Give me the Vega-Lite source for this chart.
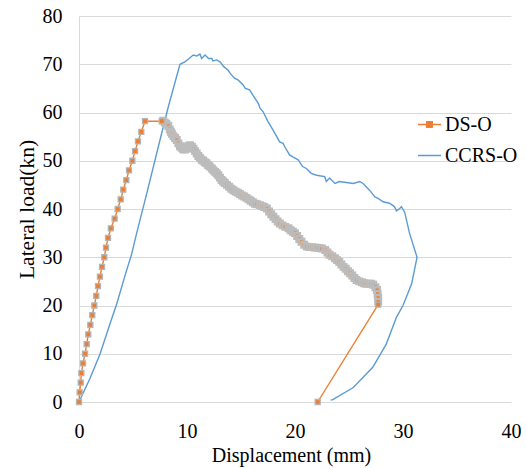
{
  "$schema": "https://vega.github.io/schema/vega-lite/v6.json",
  "autosize": "none",
  "width": 432,
  "height": 386,
  "padding": {"left": 79, "top": 16, "right": 15, "bottom": 66},
  "background": "white",
  "config": {
    "font": "Liberation Serif",
    "view": {"stroke": null},
    "axis": {"labelFont": "Liberation Serif", "titleFont": "Liberation Serif", "labelColor": "#000", "titleColor": "#000", "titleFontWeight": "normal"},
    "legend": {"labelFont": "Liberation Serif", "labelColor": "#000"}
  },
  "data": {
    "values": [
      {"series":"DS-O","i":0,"disp":0,"load":0},
      {"series":"DS-O","i":1,"disp":0.06,"load":2},
      {"series":"DS-O","i":2,"disp":0.16,"load":4},
      {"series":"DS-O","i":3,"disp":0.22,"load":6},
      {"series":"DS-O","i":4,"disp":0.37,"load":8},
      {"series":"DS-O","i":5,"disp":0.56,"load":10},
      {"series":"DS-O","i":6,"disp":0.71,"load":12},
      {"series":"DS-O","i":7,"disp":0.86,"load":14},
      {"series":"DS-O","i":8,"disp":1.05,"load":16},
      {"series":"DS-O","i":9,"disp":1.23,"load":18},
      {"series":"DS-O","i":10,"disp":1.42,"load":20},
      {"series":"DS-O","i":11,"disp":1.6,"load":22},
      {"series":"DS-O","i":12,"disp":1.76,"load":24},
      {"series":"DS-O","i":13,"disp":1.94,"load":26},
      {"series":"DS-O","i":14,"disp":2.13,"load":28},
      {"series":"DS-O","i":15,"disp":2.34,"load":30},
      {"series":"DS-O","i":16,"disp":2.5,"load":32},
      {"series":"DS-O","i":17,"disp":2.69,"load":34},
      {"series":"DS-O","i":18,"disp":2.95,"load":36},
      {"series":"DS-O","i":19,"disp":3.3,"load":38},
      {"series":"DS-O","i":20,"disp":3.58,"load":40},
      {"series":"DS-O","i":21,"disp":3.86,"load":42},
      {"series":"DS-O","i":22,"disp":4.1,"load":44},
      {"series":"DS-O","i":23,"disp":4.38,"load":46},
      {"series":"DS-O","i":24,"disp":4.63,"load":48},
      {"series":"DS-O","i":25,"disp":4.94,"load":50},
      {"series":"DS-O","i":26,"disp":5.19,"load":52},
      {"series":"DS-O","i":27,"disp":5.46,"load":54},
      {"series":"DS-O","i":28,"disp":5.77,"load":56},
      {"series":"DS-O","i":29,"disp":6.11,"load":58.2},
      {"series":"DS-O","i":30,"disp":7.66,"load":58.2},
      {"series":"DS-O","i":31,"disp":7.8,"load":58.3},
      {"series":"DS-O","i":32,"disp":7.95,"load":57.9},
      {"series":"DS-O","i":33,"disp":8.1,"load":57.6},
      {"series":"DS-O","i":34,"disp":8.27,"load":57.2},
      {"series":"DS-O","i":35,"disp":8.4,"load":56.5},
      {"series":"DS-O","i":36,"disp":8.5,"load":56.0},
      {"series":"DS-O","i":37,"disp":8.6,"load":55.6},
      {"series":"DS-O","i":38,"disp":8.75,"load":55.1},
      {"series":"DS-O","i":39,"disp":8.9,"load":54.7},
      {"series":"DS-O","i":40,"disp":9.05,"load":54.3},
      {"series":"DS-O","i":41,"disp":9.2,"load":53.6},
      {"series":"DS-O","i":42,"disp":9.35,"load":53.0},
      {"series":"DS-O","i":43,"disp":9.5,"load":52.7},
      {"series":"DS-O","i":44,"disp":9.65,"load":52.4},
      {"series":"DS-O","i":45,"disp":9.8,"load":52.3},
      {"series":"DS-O","i":46,"disp":9.95,"load":52.6},
      {"series":"DS-O","i":47,"disp":10.1,"load":53.0},
      {"series":"DS-O","i":48,"disp":10.28,"load":53.2},
      {"series":"DS-O","i":49,"disp":10.45,"load":52.9},
      {"series":"DS-O","i":50,"disp":10.6,"load":52.5},
      {"series":"DS-O","i":51,"disp":10.75,"load":52.0},
      {"series":"DS-O","i":52,"disp":10.9,"load":51.5},
      {"series":"DS-O","i":53,"disp":11.05,"load":51.0},
      {"series":"DS-O","i":54,"disp":11.2,"load":50.6},
      {"series":"DS-O","i":55,"disp":11.36,"load":50.2},
      {"series":"DS-O","i":56,"disp":11.5,"load":50.0},
      {"series":"DS-O","i":57,"disp":11.65,"load":49.7},
      {"series":"DS-O","i":58,"disp":11.8,"load":49.5},
      {"series":"DS-O","i":59,"disp":11.95,"load":49.1},
      {"series":"DS-O","i":60,"disp":12.1,"load":48.8},
      {"series":"DS-O","i":61,"disp":12.3,"load":48.4},
      {"series":"DS-O","i":62,"disp":12.45,"load":48.0},
      {"series":"DS-O","i":63,"disp":12.6,"load":47.7},
      {"series":"DS-O","i":64,"disp":12.75,"load":47.4},
      {"series":"DS-O","i":65,"disp":12.9,"load":47.0},
      {"series":"DS-O","i":66,"disp":13.05,"load":46.5},
      {"series":"DS-O","i":67,"disp":13.2,"load":46.0},
      {"series":"DS-O","i":68,"disp":13.35,"load":45.7},
      {"series":"DS-O","i":69,"disp":13.5,"load":45.4},
      {"series":"DS-O","i":70,"disp":13.7,"load":45.0},
      {"series":"DS-O","i":71,"disp":13.9,"load":44.6},
      {"series":"DS-O","i":72,"disp":14.1,"load":44.2},
      {"series":"DS-O","i":73,"disp":14.3,"load":43.9},
      {"series":"DS-O","i":74,"disp":14.5,"load":43.6},
      {"series":"DS-O","i":75,"disp":14.7,"load":43.4},
      {"series":"DS-O","i":76,"disp":14.9,"load":43.1},
      {"series":"DS-O","i":77,"disp":15.1,"load":42.8},
      {"series":"DS-O","i":78,"disp":15.3,"load":42.6},
      {"series":"DS-O","i":79,"disp":15.5,"load":42.3},
      {"series":"DS-O","i":80,"disp":15.7,"load":42.0},
      {"series":"DS-O","i":81,"disp":15.9,"load":41.7},
      {"series":"DS-O","i":82,"disp":16.1,"load":41.4},
      {"series":"DS-O","i":83,"disp":16.3,"load":41.1},
      {"series":"DS-O","i":84,"disp":16.5,"load":41.0},
      {"series":"DS-O","i":85,"disp":16.76,"load":40.8},
      {"series":"DS-O","i":86,"disp":16.95,"load":40.6},
      {"series":"DS-O","i":87,"disp":17.15,"load":40.4},
      {"series":"DS-O","i":88,"disp":17.4,"load":40.1},
      {"series":"DS-O","i":89,"disp":17.6,"load":39.5},
      {"series":"DS-O","i":90,"disp":17.8,"load":38.9},
      {"series":"DS-O","i":91,"disp":18.0,"load":38.4},
      {"series":"DS-O","i":92,"disp":18.2,"load":37.9},
      {"series":"DS-O","i":93,"disp":18.4,"load":37.4},
      {"series":"DS-O","i":94,"disp":18.6,"load":37.0},
      {"series":"DS-O","i":95,"disp":18.85,"load":36.6},
      {"series":"DS-O","i":96,"disp":19.1,"load":36.3},
      {"series":"DS-O","i":97,"disp":19.4,"load":36.0},
      {"series":"DS-O","i":98,"disp":19.6,"load":35.6},
      {"series":"DS-O","i":99,"disp":19.8,"load":35.3},
      {"series":"DS-O","i":100,"disp":20.0,"load":35.0},
      {"series":"DS-O","i":101,"disp":20.2,"load":34.4},
      {"series":"DS-O","i":102,"disp":20.4,"load":33.8},
      {"series":"DS-O","i":103,"disp":20.6,"load":33.2},
      {"series":"DS-O","i":104,"disp":20.85,"load":32.6},
      {"series":"DS-O","i":105,"disp":21.1,"load":32.2},
      {"series":"DS-O","i":106,"disp":21.35,"load":32.1},
      {"series":"DS-O","i":107,"disp":21.6,"load":32.1},
      {"series":"DS-O","i":108,"disp":21.8,"load":32.0},
      {"series":"DS-O","i":109,"disp":22.0,"load":32.0},
      {"series":"DS-O","i":110,"disp":22.25,"load":31.9},
      {"series":"DS-O","i":111,"disp":22.5,"load":31.8},
      {"series":"DS-O","i":112,"disp":22.8,"load":31.5},
      {"series":"DS-O","i":113,"disp":23.0,"load":31.0},
      {"series":"DS-O","i":114,"disp":23.2,"load":30.5},
      {"series":"DS-O","i":115,"disp":23.45,"load":30.2},
      {"series":"DS-O","i":116,"disp":23.7,"load":29.8},
      {"series":"DS-O","i":117,"disp":23.9,"load":29.4},
      {"series":"DS-O","i":118,"disp":24.1,"load":29.0},
      {"series":"DS-O","i":119,"disp":24.3,"load":28.5},
      {"series":"DS-O","i":120,"disp":24.5,"load":28.0},
      {"series":"DS-O","i":121,"disp":24.7,"load":27.6},
      {"series":"DS-O","i":122,"disp":24.9,"load":27.1},
      {"series":"DS-O","i":123,"disp":25.1,"load":26.7},
      {"series":"DS-O","i":124,"disp":25.3,"load":26.2},
      {"series":"DS-O","i":125,"disp":25.5,"load":25.7},
      {"series":"DS-O","i":126,"disp":25.7,"load":25.3},
      {"series":"DS-O","i":127,"disp":25.95,"load":25.0},
      {"series":"DS-O","i":128,"disp":26.2,"load":24.8},
      {"series":"DS-O","i":129,"disp":26.4,"load":24.6},
      {"series":"DS-O","i":130,"disp":26.6,"load":24.5},
      {"series":"DS-O","i":131,"disp":26.85,"load":24.5},
      {"series":"DS-O","i":132,"disp":27.05,"load":24.5},
      {"series":"DS-O","i":133,"disp":27.25,"load":24.3},
      {"series":"DS-O","i":134,"disp":27.45,"load":23.8},
      {"series":"DS-O","i":135,"disp":27.6,"load":23.2},
      {"series":"DS-O","i":136,"disp":27.65,"load":22.4},
      {"series":"DS-O","i":137,"disp":27.7,"load":21.6},
      {"series":"DS-O","i":138,"disp":27.7,"load":20.8},
      {"series":"DS-O","i":139,"disp":27.7,"load":20.2},
      {"series":"DS-O","i":140,"disp":22.1,"load":0},
      {"series":"CCRS-O","i":0,"disp":0,"load":0},
      {"series":"CCRS-O","i":1,"disp":1.0,"load":4.8},
      {"series":"CCRS-O","i":2,"disp":1.94,"load":9.9},
      {"series":"CCRS-O","i":3,"disp":2.87,"load":16.2},
      {"series":"CCRS-O","i":4,"disp":3.49,"load":20.3},
      {"series":"CCRS-O","i":5,"disp":4.26,"load":26.2},
      {"series":"CCRS-O","i":6,"disp":4.88,"load":30.7},
      {"series":"CCRS-O","i":7,"disp":5.34,"load":35},
      {"series":"CCRS-O","i":8,"disp":6.27,"load":43.2},
      {"series":"CCRS-O","i":9,"disp":7.5,"load":54.3},
      {"series":"CCRS-O","i":10,"disp":8.27,"load":61.2},
      {"series":"CCRS-O","i":11,"disp":9.35,"load":70.0},
      {"series":"CCRS-O","i":12,"disp":9.8,"load":70.5},
      {"series":"CCRS-O","i":13,"disp":10.2,"load":71.2},
      {"series":"CCRS-O","i":14,"disp":10.58,"load":71.9},
      {"series":"CCRS-O","i":15,"disp":10.9,"load":71.7},
      {"series":"CCRS-O","i":16,"disp":11.2,"load":72.1},
      {"series":"CCRS-O","i":17,"disp":11.36,"load":71.2},
      {"series":"CCRS-O","i":18,"disp":11.67,"load":71.9},
      {"series":"CCRS-O","i":19,"disp":12.0,"load":71.2},
      {"series":"CCRS-O","i":20,"disp":12.3,"load":71.2},
      {"series":"CCRS-O","i":21,"disp":12.4,"load":70.7},
      {"series":"CCRS-O","i":22,"disp":12.75,"load":70.9},
      {"series":"CCRS-O","i":23,"disp":13.06,"load":70.5},
      {"series":"CCRS-O","i":24,"disp":13.4,"load":69.5},
      {"series":"CCRS-O","i":25,"disp":13.8,"load":68.8},
      {"series":"CCRS-O","i":26,"disp":14.0,"load":68.1},
      {"series":"CCRS-O","i":27,"disp":14.4,"load":67.1},
      {"series":"CCRS-O","i":28,"disp":14.75,"load":66.7},
      {"series":"CCRS-O","i":29,"disp":15.2,"load":65.7},
      {"series":"CCRS-O","i":30,"disp":15.4,"load":65.0},
      {"series":"CCRS-O","i":31,"disp":15.8,"load":64.7},
      {"series":"CCRS-O","i":32,"disp":16.1,"load":63.6},
      {"series":"CCRS-O","i":33,"disp":16.6,"load":61.9},
      {"series":"CCRS-O","i":34,"disp":16.76,"load":60.9},
      {"series":"CCRS-O","i":35,"disp":17.04,"load":60.2},
      {"series":"CCRS-O","i":36,"disp":17.5,"load":58.1},
      {"series":"CCRS-O","i":37,"disp":17.96,"load":56.4},
      {"series":"CCRS-O","i":38,"disp":18.58,"load":53.9},
      {"series":"CCRS-O","i":39,"disp":18.9,"load":53.6},
      {"series":"CCRS-O","i":40,"disp":19.05,"load":52.9},
      {"series":"CCRS-O","i":41,"disp":19.5,"load":51.2},
      {"series":"CCRS-O","i":42,"disp":19.8,"load":50.8},
      {"series":"CCRS-O","i":43,"disp":20.3,"load":50.2},
      {"series":"CCRS-O","i":44,"disp":20.7,"load":48.8},
      {"series":"CCRS-O","i":45,"disp":21.05,"load":48.4},
      {"series":"CCRS-O","i":46,"disp":21.5,"load":47.4},
      {"series":"CCRS-O","i":47,"disp":22.0,"load":47.0},
      {"series":"CCRS-O","i":48,"disp":22.75,"load":46.7},
      {"series":"CCRS-O","i":49,"disp":22.9,"load":45.7},
      {"series":"CCRS-O","i":50,"disp":23.2,"load":46.4},
      {"series":"CCRS-O","i":51,"disp":23.7,"load":45.3},
      {"series":"CCRS-O","i":52,"disp":24.1,"load":45.7},
      {"series":"CCRS-O","i":53,"disp":24.75,"load":45.5},
      {"series":"CCRS-O","i":54,"disp":25.4,"load":45.3},
      {"series":"CCRS-O","i":55,"disp":26.0,"load":45.7},
      {"series":"CCRS-O","i":56,"disp":26.3,"load":45.3},
      {"series":"CCRS-O","i":57,"disp":26.9,"load":43.9},
      {"series":"CCRS-O","i":58,"disp":27.4,"load":42.5},
      {"series":"CCRS-O","i":59,"disp":27.7,"load":42.2},
      {"series":"CCRS-O","i":60,"disp":28.15,"load":41.5},
      {"series":"CCRS-O","i":61,"disp":28.75,"load":41.2},
      {"series":"CCRS-O","i":62,"disp":29.2,"load":40.5},
      {"series":"CCRS-O","i":63,"disp":29.4,"load":39.6},
      {"series":"CCRS-O","i":64,"disp":29.7,"load":40.1},
      {"series":"CCRS-O","i":65,"disp":29.85,"load":40.5},
      {"series":"CCRS-O","i":66,"disp":30.15,"load":39.4},
      {"series":"CCRS-O","i":67,"disp":30.6,"load":35.0},
      {"series":"CCRS-O","i":68,"disp":31.3,"load":30.0},
      {"series":"CCRS-O","i":69,"disp":30.8,"load":24.5},
      {"series":"CCRS-O","i":70,"disp":30.0,"load":20.0},
      {"series":"CCRS-O","i":71,"disp":29.4,"load":17.6},
      {"series":"CCRS-O","i":72,"disp":28.45,"load":12.0},
      {"series":"CCRS-O","i":73,"disp":27.2,"load":7.2},
      {"series":"CCRS-O","i":74,"disp":25.4,"load":3.0},
      {"series":"CCRS-O","i":75,"disp":23.5,"load":0.5},
      {"series":"CCRS-O","i":76,"disp":23.3,"load":0.4}
    ]
  },
  "encoding": {
    "x": {
      "field": "disp", "type": "quantitative",
      "scale": {"domain": [0, 40], "nice": false},
      "axis": {
        "values": [0, 10, 20, 30, 40], "grid": false, "domain": false, "ticks": false, "tickSize": 0,
        "labelFontSize": 20, "labelPadding": 35, "labelBaseline": "alphabetic", "labelFlush": false, "labelOverlap": false,
        "title": "Displacement (mm)", "titleFontSize": 20, "titleBaseline": "alphabetic", "titleY": 59, "titleX": 212
      }
    },
    "y": {
      "field": "load", "type": "quantitative",
      "scale": {"domain": [0, 80], "nice": false},
      "axis": {
        "values": [0, 10, 20, 30, 40, 50, 60, 70, 80], "grid": true, "gridColor": "#D9D9D9", "gridWidth": 1,
        "domain": true, "domainColor": "#D9D9D9", "ticks": false, "tickSize": 0,
        "labelFontSize": 20, "labelPadding": 17, "labelFlush": false, "labelOverlap": false,
        "title": "Lateral load(kn)", "titleFontSize": 21.5, "titleX": -46, "titleY": 193, "titleBaseline": "alphabetic"
      }
    }
  },
  "layer": [
    {
      "mark": {"type": "line", "strokeWidth": 1.4, "interpolate": "linear"},
      "encoding": {
        "order": {"field": "i", "type": "quantitative"},
        "color": {
          "field": "series", "type": "nominal",
          "scale": {"domain": ["DS-O", "CCRS-O"], "range": ["#ED7D31", "#5B9BD5"]},
          "legend": {
            "orient": "none", "legendX": 338, "legendY": 96, "title": null,
            "symbolType": "stroke", "symbolSize": 529, "symbolStrokeWidth": 1.5,
            "labelFontSize": 20, "labelOffset": 3, "rowPadding": 8
          }
        }
      }
    },
    {
      "transform": [{"filter": "datum.series == 'DS-O' && datum.i > 30 && datum.i < 139"}],
      "mark": {"type": "point", "filled": true, "fill": "#ED7D31", "stroke": "#BCBCBC", "strokeWidth": 2.4, "size": 340, "opacity": 1},
      "encoding": {
        "shape": {
          "field": "series", "type": "nominal",
          "scale": {"domain": ["DS-O"], "range": ["M-0.3,-0.3H0.3V0.3H-0.3Z"]},
          "legend": {
            "orient": "none", "legendX": 338, "legendY": 96, "title": null,
            "symbolSize": 529, "symbolFillColor": "#ED7D31", "symbolStrokeColor": "#B4B4B4", "symbolStrokeWidth": 1.3,
            "labelFontSize": 20, "labelOffset": 3, "rowPadding": 8, "labelOpacity": 0
          }
        }
      }
    },
    {
      "transform": [{"filter": "datum.series == 'DS-O' && (datum.i <= 30 || datum.i >= 139)"}],
      "mark": {"type": "point", "filled": true, "fill": "#ED7D31", "stroke": "#B4B4B4", "strokeWidth": 1.3, "size": 278, "opacity": 1},
      "encoding": {
        "shape": {
          "field": "series", "type": "nominal",
          "scale": {"domain": ["DS-O"], "range": ["M-0.3,-0.3H0.3V0.3H-0.3Z"]},
          "legend": {
            "orient": "none", "legendX": 338, "legendY": 96, "title": null,
            "symbolSize": 529, "symbolFillColor": "#ED7D31", "symbolStrokeColor": "#B4B4B4", "symbolStrokeWidth": 1.3,
            "labelFontSize": 20, "labelOffset": 3, "rowPadding": 8, "labelOpacity": 0
          }
        }
      }
    }
  ]
}
